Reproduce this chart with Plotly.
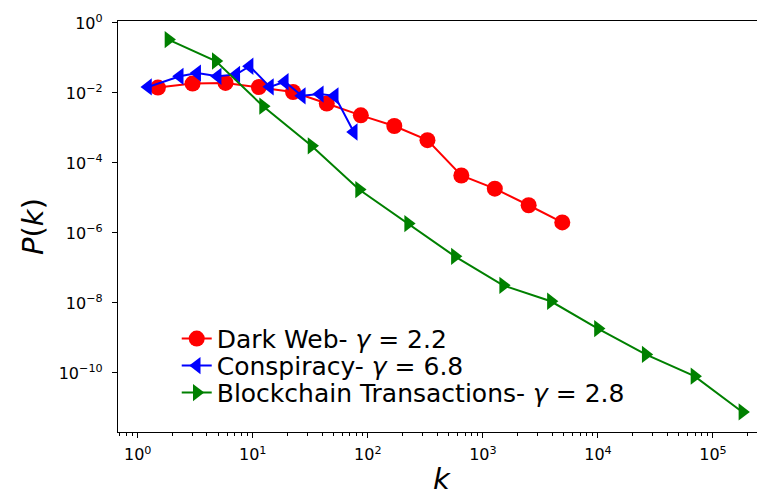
import plotly.graph_objects as go

# Dark Web
dark_k = [1.5, 3.0, 5.8, 11.3, 22.4, 44, 87, 170, 330, 650, 1270, 2500, 4900]
dark_p = [0.0143, 0.0186, 0.0194, 0.0148, 0.0107, 0.0050, 0.0023, 0.00114,
          4.5e-4, 4.4e-5, 1.85e-5, 6.2e-6, 2.0e-6]

# Conspiracy
consp_k = [1.23, 2.32, 3.29, 4.96, 7.2, 9.4, 14.1, 19, 26.7, 38.3, 51.6, 75.5]
consp_p = [0.0149, 0.030, 0.037, 0.030, 0.034, 0.058, 0.015, 0.021,
           0.0083, 0.0093, 0.0083, 7.7e-4]

# Blockchain Transactions
block_k = [1.85, 4.77, 12.3, 32.4, 84, 224, 571, 1500, 3900, 1.0e4, 2.6e4,
           6.9e4, 1.8e5]
block_p = [0.336, 0.082, 0.0042, 3.1e-4, 1.74e-5, 1.86e-6, 2.15e-7, 3.2e-8,
           1.12e-8, 1.86e-9, 3.4e-10, 8.1e-11, 7.7e-12]

names = ["Dark Web- <i>γ</i> = 2.2",
         "Conspiracy- <i>γ</i> = 6.8",
         "Blockchain Transactions- <i>γ</i> = 2.8"]

x_tickvals = [1, 10, 100, 1e3, 1e4, 1e5]
x_ticktext = ["10<sup>0</sup>", "10<sup>1</sup>", "10<sup>2</sup>",
              "10<sup>3</sup>", "10<sup>4</sup>", "10<sup>5</sup>"]
y_tickvals = [1, 1e-2, 1e-4, 1e-6, 1e-8, 1e-10]
y_ticktext = ["10<sup>0</sup>", "10<sup>−2</sup>", "10<sup>−4</sup>",
              "10<sup>−6</sup>", "10<sup>−8</sup>", "10<sup>−10</sup>"]

FONT = "DejaVu Sans"

# page body has an 8px margin; compensate so the plot lands where the reference has it
OFF = 8
W, H = 765 - OFF, 496 - OFF
L = 118.3 - OFF
T = 20.7 - OFF
R = 0
B = H - (431.7 - OFF)
pw = W - L - R
ph = H - T - B


def px_to_paper_x(px):
    return (px - OFF - L) / pw


def px_to_paper_y(py):
    return (H - B - (py - OFF)) / ph


fig = go.Figure()
fig.add_trace(go.Scatter(x=dark_k, y=dark_p, mode="lines+markers", name=names[0],
                         line=dict(color="#ff0000", width=2),
                         marker=dict(symbol="circle", size=16, color="#ff0000"),
                         legend="legend"))
fig.add_trace(go.Scatter(x=consp_k, y=consp_p, mode="lines+markers", name=names[1],
                         line=dict(color="#0000ff", width=2),
                         marker=dict(symbol="triangle-left", size=15, color="#0000ff"),
                         legend="legend2"))
fig.add_trace(go.Scatter(x=block_k, y=block_p, mode="lines+markers", name=names[2],
                         line=dict(color="#008000", width=2),
                         marker=dict(symbol="triangle-right", size=15, color="#008000"),
                         legend="legend3"))

leg_common = dict(xanchor="left", yanchor="middle", bgcolor="rgba(0,0,0,0)",
                  font=dict(size=25, family=FONT, color="black"))
leg_x = px_to_paper_x(177)

fig.update_layout(
    width=W, height=H,
    margin=dict(l=L, r=R, t=T, b=B, autoexpand=False),
    paper_bgcolor="white", plot_bgcolor="white",
    font=dict(family=FONT, color="black", size=16),
    showlegend=True,
    legend=dict(x=leg_x, y=px_to_paper_y(338.5), **leg_common),
    legend2=dict(x=leg_x, y=px_to_paper_y(365.5), **leg_common),
    legend3=dict(x=leg_x, y=px_to_paper_y(392.5), **leg_common),
)
fig.update_xaxes(
    type="log", range=[-0.171, 5.452],
    showline=True, linecolor="black", linewidth=1.3, mirror=True,
    ticks="outside", ticklen=5, tickwidth=1.2, tickcolor="black",
    tickvals=x_tickvals, ticktext=x_ticktext, ticklabelstandoff=3,
    showgrid=False, zeroline=False,
    tickfont=dict(size=16, family=FONT),
    minor=dict(ticks="outside", ticklen=3, tickwidth=1, tickcolor="black",
               dtick="D1", showgrid=False),
    title=dict(text="<i>k</i>", font=dict(size=29, family=FONT), standoff=11),
)
fig.update_yaxes(
    type="log", range=[-11.686, 0.057],
    showline=True, linecolor="black", linewidth=1.3,
    ticks="outside", ticklen=5, tickwidth=1.2, tickcolor="black",
    tickvals=y_tickvals, ticktext=y_ticktext, ticklabelstandoff=6,
    showgrid=False, zeroline=False,
    tickfont=dict(size=16, family=FONT),
    title=dict(text="<i>P</i>(<i>k</i>)", font=dict(size=29, family=FONT), standoff=6),
)

fig.write_html("out.html")
